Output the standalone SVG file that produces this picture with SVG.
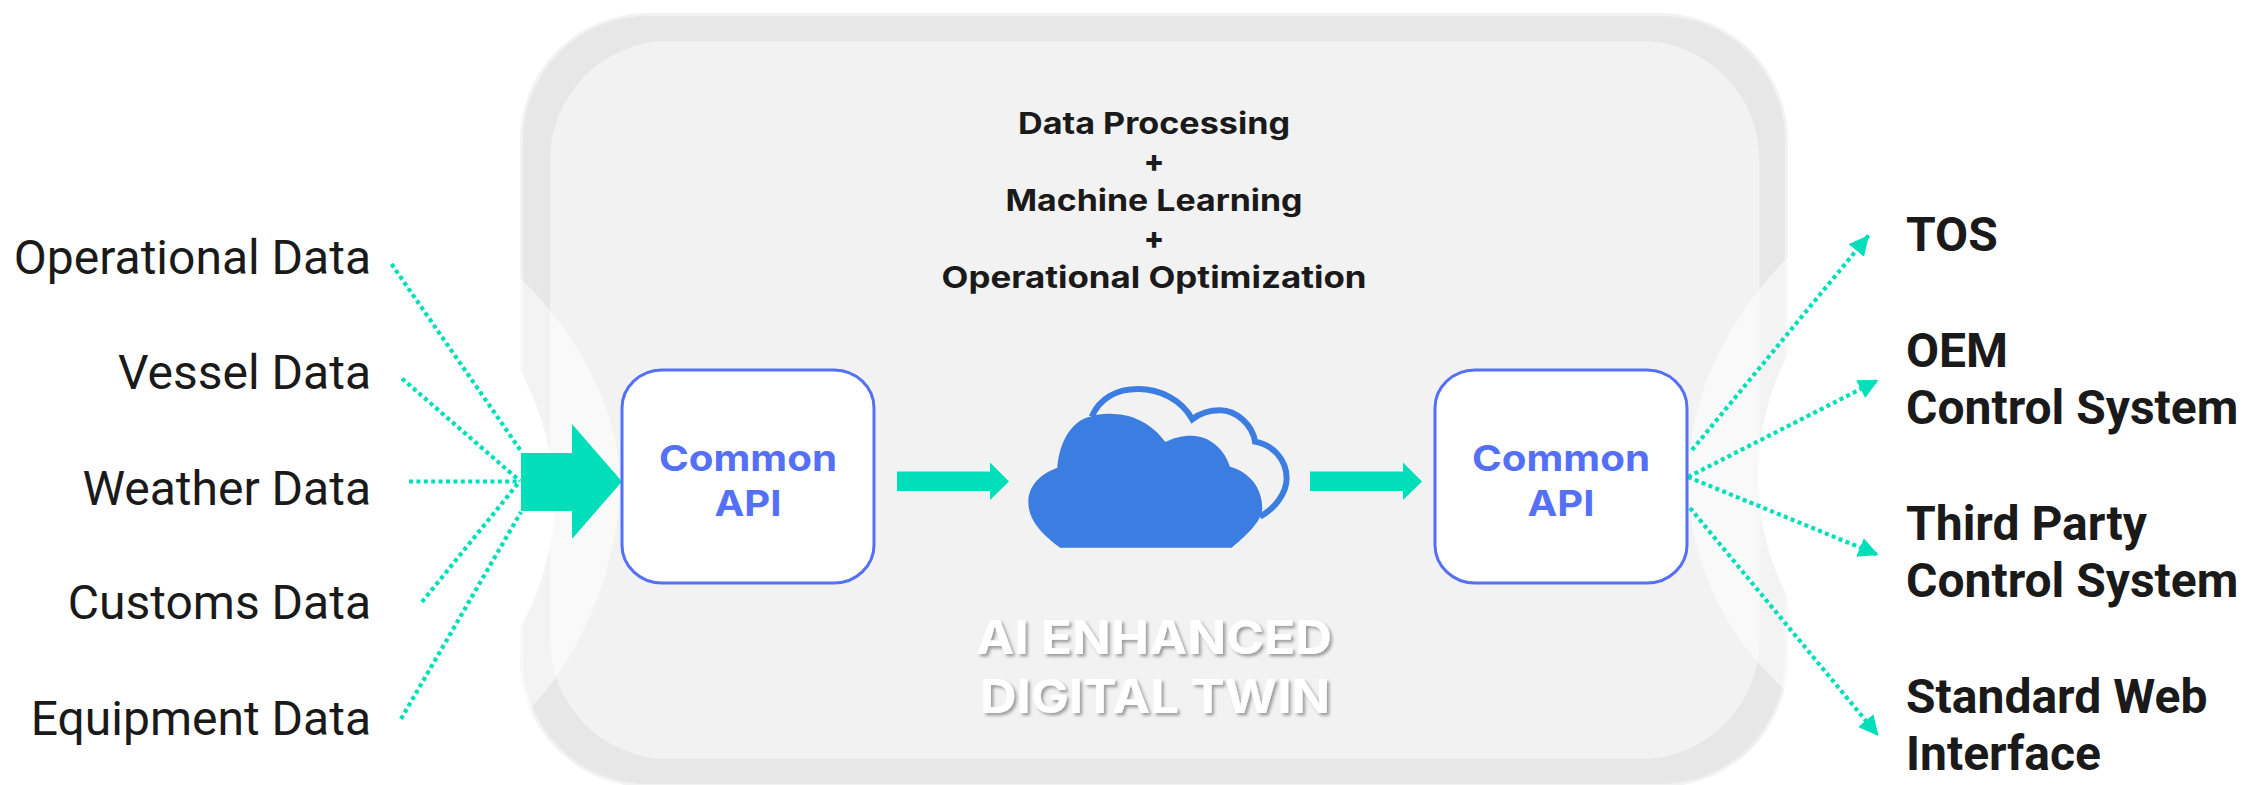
<svg xmlns="http://www.w3.org/2000/svg" width="2247" height="785" viewBox="0 0 2247 785">
<defs>
<style>
.inl{font:400 48px Roboto,"Liberation Sans",sans-serif;fill:#1a1a1a;text-anchor:end}
.out{font:700 48px Roboto,"Liberation Sans",sans-serif;fill:#1a1a1a}
.ttl{font:700 30px Inter,"Liberation Sans",sans-serif;fill:#1a1a1a;text-anchor:middle}
.api{font:700 36px Inter,"Liberation Sans",sans-serif;fill:#5470f6;text-anchor:middle}
.twin{font:700 47px Inter,"Liberation Sans",sans-serif;fill:#fff;text-anchor:middle}
.box{fill:#fff;stroke:#5470f6;stroke-width:3}
.dot{fill:none;stroke:#00dfb9;stroke-width:4.200;stroke-dasharray:4 3.400}
.grn{fill:#00dfb9}
</style>
<marker id="head" viewBox="0 0 20 20" refX="20" refY="10" markerWidth="20" markerHeight="20" markerUnits="userSpaceOnUse" orient="auto"><path d="M0 0L20 10L0 20z" fill="#00dfb9"/></marker>
<clipPath id="outerClip"><rect x="520" y="13" width="1268" height="774" rx="127" ry="127"/></clipPath>
<filter id="shadow" x="-5%" y="-20%" width="110%" height="140%"><feDropShadow dx="2.500" dy="2.500" stdDeviation="1.500" flood-color="#000" flood-opacity=".35"/></filter>
</defs>
<g id="twin-panel">
<rect x="521.500" y="14.500" width="1265" height="771" rx="126" ry="126" fill="#e7e7e7" stroke="#f2f2f2" stroke-width="3"/>
<rect x="550" y="41" width="1209.500" height="718" rx="118" ry="120" fill="#f2f2f2"/>
<g clip-path="url(#outerClip)">
<path d="M500 258L520 278C585 340 620 420 620 481C620 560 585 650 532 707L500 730z" fill="#fff" fill-opacity=".5"/>
<path d="M1810 236L1788 257C1725 320 1688 400 1688 480C1688 560 1725 635 1783 688L1810 712z" fill="#fff" fill-opacity=".5"/>
</g>
<path d="M518 370H520C542 410 555 460 555 499C555 540 542 590 520 628H518z" fill="#fff"/>
<path d="M1790 355H1788C1770 385 1758 435 1758 477C1758 520 1770 565 1788 597H1790z" fill="#fff"/>
<text class="twin" filter="url(#shadow)" x="1154" y="654" textLength="356" lengthAdjust="spacingAndGlyphs">AI ENHANCED</text>
<text class="twin" filter="url(#shadow)" x="1155" y="713" textLength="350" lengthAdjust="spacingAndGlyphs">DIGITAL TWIN</text>
</g>
<g id="title">
<text class="ttl" x="1154" y="134" textLength="272" lengthAdjust="spacingAndGlyphs">Data Processing</text>
<text class="ttl" x="1154" y="171.500" style="font-weight:800">+</text>
<text class="ttl" x="1154" y="211" textLength="297" lengthAdjust="spacingAndGlyphs">Machine Learning</text>
<text class="ttl" x="1154" y="248.500" style="font-weight:800">+</text>
<text class="ttl" x="1154" y="288" textLength="425" lengthAdjust="spacingAndGlyphs">Operational Optimization</text>
</g>
<g id="connectors">
<path class="dot" d="M391.500 264L521 451"/>
<path class="dot" d="M402 378.500L520 481"/>
<path class="dot" d="M409 481.500H520"/>
<path class="dot" d="M422 602L520 481"/>
<path class="dot" d="M401 719L521 512"/>
<path class="dot" d="M1692 450L1869 235" marker-end="url(#head)"/>
<path class="dot" d="M1688 477L1878.500 380" marker-end="url(#head)"/>
<path class="dot" d="M1688 477L1878.500 555" marker-end="url(#head)"/>
<path class="dot" d="M1690 508L1878.500 736" marker-end="url(#head)"/>
<path class="grn" d="M521 453H572V424L622 481.500L572 539V511H521z"/>
<path class="grn" d="M897 471.500H990V462.500L1009 481.500L990 500V491H897z"/>
<path class="grn" d="M1310 471.500H1403V462.500L1422 481.500L1403 500V491H1310z"/>
</g>
<g id="api-in">
<rect class="box" x="622" y="370" width="252" height="213" rx="40" ry="38"/>
<text class="api" x="748" y="470.500" textLength="178" lengthAdjust="spacingAndGlyphs">Common</text>
<text class="api" x="748" y="515.500" textLength="67" lengthAdjust="spacingAndGlyphs">API</text>
</g>
<g id="cloud" transform="translate(1010 370) scale(.3333)">
<path d="M245 140C270 85 320 57 385 57C450 57 515 90 547 148C570 130 600 121 630 121C680 121 728 165 735 215C790 225 830 270 830 325C830 370 795 415 750 440" fill="none" stroke="#3b7de0" stroke-width="18"/>
<path d="M150 533C100 495 55 455 55 395C55 345 95 310 142 293C148 210 190 150 240 140C262 132 290 130 310 132C370 132 430 165 466 216C490 203 520 196 545 197C600 197 645 240 660 290C715 305 757 350 757 415C757 455 700 505 665 533Z" fill="#3b7de0"/>
</g>
<g id="api-out">
<rect class="box" x="1435" y="370" width="252" height="213" rx="40" ry="38"/>
<text class="api" x="1561" y="470.500" textLength="178" lengthAdjust="spacingAndGlyphs">Common</text>
<text class="api" x="1561" y="515.500" textLength="67" lengthAdjust="spacingAndGlyphs">API</text>
</g>
<g id="inputs">
<text class="inl" x="371" y="274">Operational Data</text>
<text class="inl" x="371" y="388.500">Vessel Data</text>
<text class="inl" x="371" y="504.500">Weather Data</text>
<text class="inl" x="371" y="619">Customs Data</text>
<text class="inl" x="371" y="734.500">Equipment Data</text>
</g>
<g id="outputs">
<text class="out" x="1906" y="251">TOS</text>
<text class="out" x="1906" y="366.500">OEM</text>
<text class="out" x="1906" y="424">Control System</text>
<text class="out" x="1906" y="540">Third Party</text>
<text class="out" x="1906" y="597">Control System</text>
<text class="out" x="1906" y="713">Standard Web</text>
<text class="out" x="1906" y="770">Interface</text>
</g>
</svg>
